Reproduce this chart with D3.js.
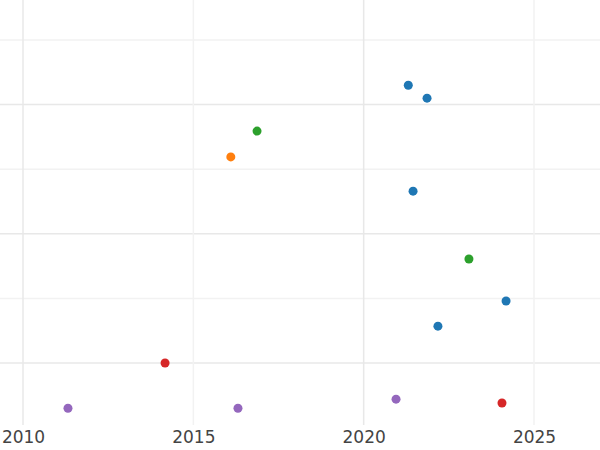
<!DOCTYPE html>
<html>
<head>
<meta charset="utf-8">
<script src="https://cdn.jsdelivr.net/npm/d3@7"></script>
<style>
  body { margin: 0; background: #fff; }
  svg text { font-family: "DejaVu Sans", sans-serif; }
</style>
</head>
<body>
<svg id="chart" width="600" height="450"></svg>
<script>
  'use strict';

  // data
  var years = [2021.31, 2021.86, 2016.87, 2016.10, 2021.45, 2023.09, 2024.18,
               2022.18, 2014.17, 2011.32, 2016.31, 2020.95, 2024.06];
  var values = [5.30, 5.10, 4.59, 4.19, 3.66, 2.61, 1.96,
                1.57, 1.00, 0.30, 0.30, 0.44, 0.38];
  var groups = ['a', 'a', 'c', 'b', 'a', 'c', 'a', 'a', 'd', 'e', 'e', 'e', 'd'];
  var xTicks = [2010, 2015, 2020, 2025];
  var yGrid = [1, 2, 3, 4, 5, 6];

  var colors = { a: '#1f77b4', b: '#ff7f0e', c: '#2ca02c', d: '#d62728', e: '#9467bd' };

  var svg = d3.select('#chart');
  var x = d3.scaleLinear().domain([2010, 2025]).range([23, 534]);
  var y = d3.scaleLinear().domain([1, 6]).range([363, 40]);

  // grid
  svg.append('g').selectAll('line').data(yGrid).join('line')
    .attr('x1', 0).attr('x2', 600)
    .attr('y1', function(d) { return y(d); }).attr('y2', function(d) { return y(d); })
    .attr('stroke', function(d, i) { return i % 2 ? '#f2f2f2' : '#e8e8e8'; })
    .attr('stroke-width', 1.5);

  svg.append('g').selectAll('line').data(xTicks).join('line')
    .attr('x1', function(d) { return x(d); }).attr('x2', function(d) { return x(d); })
    .attr('y1', 0).attr('y2', 425)
    .attr('stroke', function(d, i) { return i % 2 ? '#f2f2f2' : '#e8e8e8'; })
    .attr('stroke-width', 1.5);

  // x axis labels
  var xAxis = d3.axisBottom(x).tickValues(xTicks).tickFormat(d3.format('d')).tickSize(0).tickPadding(6);
  var ax = svg.append('g').attr('transform', 'translate(0,425)').call(xAxis);
  ax.select('.domain').remove();
  ax.selectAll('text').attr('font-size', 17).attr('fill', '#444')
    .style('font-family', '"DejaVu Sans", sans-serif');

  // points
  svg.append('g').selectAll('circle').data(years).join('circle')
    .attr('cx', function(d) { return x(d); })
    .attr('cy', function(d, i) { return y(values[i]); })
    .attr('r', 4.5)
    .attr('fill', function(d, i) { return colors[groups[i]]; });
</script>
</body>
</html>
